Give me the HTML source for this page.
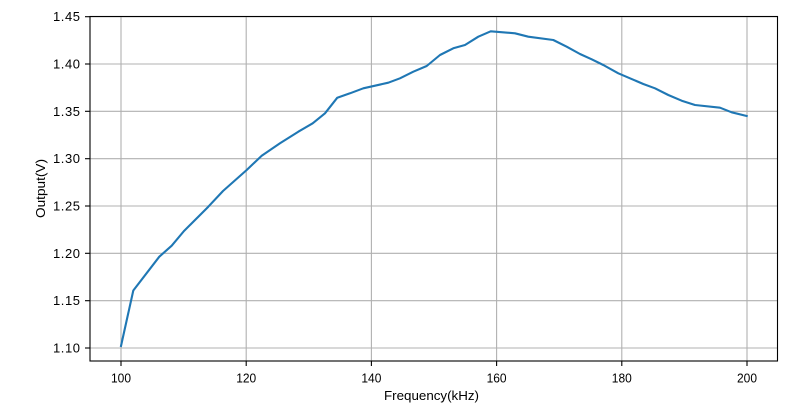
<!DOCTYPE html>
<html>
<head>
<meta charset="utf-8">
<style>
html,body{margin:0;padding:0;background:#fff;}
svg{display:block;}
text{font-family:"Liberation Sans","Noto Sans CJK SC",sans-serif;font-size:13px;fill:#000;}
</style>
</head>
<body>
<svg width="800" height="409" viewBox="0 0 800 409" xmlns="http://www.w3.org/2000/svg">
<rect x="0" y="0" width="800" height="409" fill="#fff"/>
<!-- grid -->
<g stroke="#b0b0b0" stroke-width="1.1" fill="none">
<line x1="121" y1="16.5" x2="121" y2="361"/>
<line x1="246.2" y1="16.5" x2="246.2" y2="361"/>
<line x1="371.4" y1="16.5" x2="371.4" y2="361"/>
<line x1="496.6" y1="16.5" x2="496.6" y2="361"/>
<line x1="621.8" y1="16.5" x2="621.8" y2="361"/>
<line x1="747" y1="16.5" x2="747" y2="361"/>
<line x1="90" y1="348" x2="777.5" y2="348"/>
<line x1="90" y1="300.7" x2="777.5" y2="300.7"/>
<line x1="90" y1="253.3" x2="777.5" y2="253.3"/>
<line x1="90" y1="206" x2="777.5" y2="206"/>
<line x1="90" y1="158.7" x2="777.5" y2="158.7"/>
<line x1="90" y1="111.3" x2="777.5" y2="111.3"/>
<line x1="90" y1="64" x2="777.5" y2="64"/>
<line x1="90" y1="16.7" x2="777.5" y2="16.7"/>
</g>
<!-- series -->
<polyline fill="none" stroke="#1f77b4" stroke-width="2.1" stroke-linejoin="round" stroke-linecap="square"
points="121,346 133.3,290.5 159.3,256.7 171.7,245.7 184,231 208.3,206.7 223,191 246.7,170 261.7,155.7 280,143.3 298.3,131.7 312.7,123.3 325,113.3 337.3,97.7 350,93.3 363.3,88.3 375,85.7 388.3,82.7 400,78.3 413.3,71.7 426.7,66 440,55 453.3,48.3 465,45 478.3,36.7 490.7,31.3 515,33.3 528.3,36.7 553.3,40 566.7,46.7 580,54 591.7,59.3 603.3,65 618.3,73.3 630,78.3 643.3,84 655,88.3 668.3,95 681.7,100.7 695,105 720,107.7 731.7,112.3 746.7,116"/>
<!-- spines -->
<rect x="90" y="16.5" width="687.5" height="344.5" fill="none" stroke="#000" stroke-width="1.1"/>
<!-- ticks -->
<g stroke="#000" stroke-width="1.1">
<line x1="121" y1="361" x2="121" y2="366"/>
<line x1="246.2" y1="361" x2="246.2" y2="366"/>
<line x1="371.4" y1="361" x2="371.4" y2="366"/>
<line x1="496.6" y1="361" x2="496.6" y2="366"/>
<line x1="621.8" y1="361" x2="621.8" y2="366"/>
<line x1="747" y1="361" x2="747" y2="366"/>
<line x1="85" y1="348" x2="90" y2="348"/>
<line x1="85" y1="300.7" x2="90" y2="300.7"/>
<line x1="85" y1="253.3" x2="90" y2="253.3"/>
<line x1="85" y1="206" x2="90" y2="206"/>
<line x1="85" y1="158.7" x2="90" y2="158.7"/>
<line x1="85" y1="111.3" x2="90" y2="111.3"/>
<line x1="85" y1="64" x2="90" y2="64"/>
<line x1="85" y1="16.7" x2="90" y2="16.7"/>
</g>
<!-- x tick labels -->
<g text-anchor="middle">
<text x="121" y="382.5" textLength="20" lengthAdjust="spacingAndGlyphs">100</text>
<text x="246.2" y="382.5" textLength="20" lengthAdjust="spacingAndGlyphs">120</text>
<text x="371.4" y="382.5" textLength="20" lengthAdjust="spacingAndGlyphs">140</text>
<text x="496.6" y="382.5" textLength="20" lengthAdjust="spacingAndGlyphs">160</text>
<text x="621.8" y="382.5" textLength="20" lengthAdjust="spacingAndGlyphs">180</text>
<text x="747" y="382.5" textLength="20" lengthAdjust="spacingAndGlyphs">200</text>
</g>
<!-- y tick labels -->
<g>
<text x="53" y="352.5" textLength="27" lengthAdjust="spacing">1.10</text>
<text x="53" y="305.2" textLength="27" lengthAdjust="spacing">1.15</text>
<text x="53" y="257.8" textLength="27" lengthAdjust="spacing">1.20</text>
<text x="53" y="210.5" textLength="27" lengthAdjust="spacing">1.25</text>
<text x="53" y="163.2" textLength="27" lengthAdjust="spacing">1.30</text>
<text x="53" y="115.8" textLength="27" lengthAdjust="spacing">1.35</text>
<text x="53" y="68.5" textLength="27" lengthAdjust="spacing">1.40</text>
<text x="53" y="21.2" textLength="27" lengthAdjust="spacing">1.45</text>
</g>
<!-- axis labels -->
<text x="431.5" y="400" text-anchor="middle" textLength="95" lengthAdjust="spacingAndGlyphs">Frequency(kHz)</text>
<text transform="translate(45,188.5) rotate(-90)" text-anchor="middle" textLength="59" lengthAdjust="spacingAndGlyphs">Output(V)</text>
</svg>
</body>
</html>
